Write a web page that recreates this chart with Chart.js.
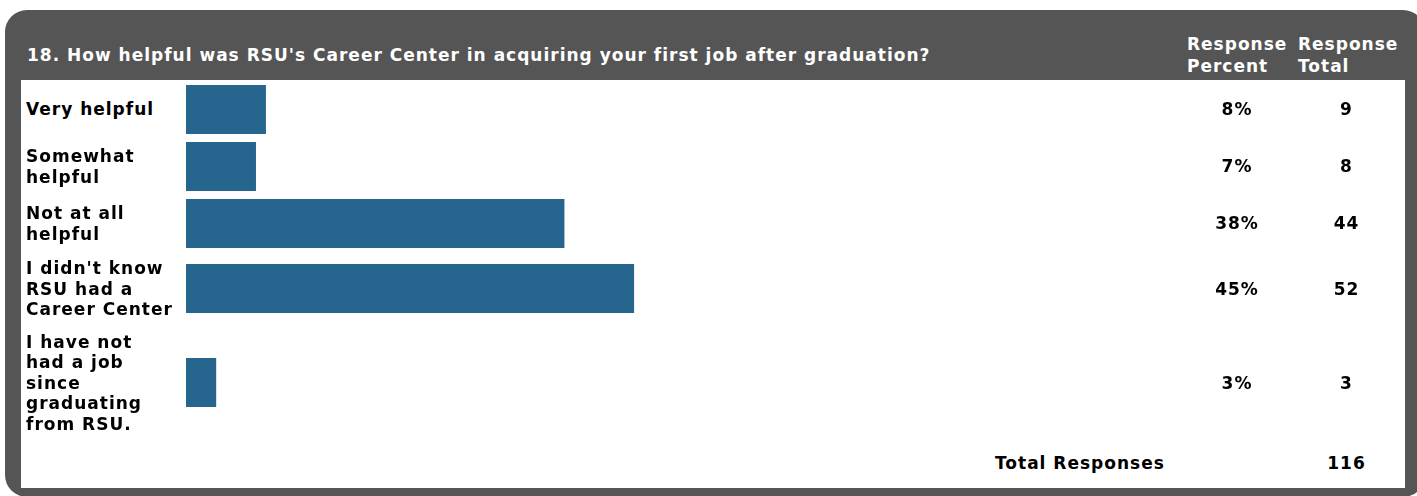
<!DOCTYPE html>
<html>
<head>
<meta charset="utf-8">
<script src="https://cdn.jsdelivr.net/npm/chart.js@4.4.1/dist/chart.umd.min.js"></script>
<style>
  html, body { margin: 0; padding: 0; background: #fff; }
  body { width: 1417px; height: 496px; overflow: hidden; position: relative;
         font-family: 'DejaVu Sans', Verdana, sans-serif; font-weight: bold; font-size: 17px; letter-spacing: 1px; }
  .box { position: absolute; left: 5px; top: 10px; width: 1420px; height: 487px;
         background: #555555; border-radius: 22px; }
  .title { position: absolute; left: 27px; top: 44px; color: #fff; line-height: 22px; white-space: nowrap; }
  .head { position: absolute; top: 33px; color: #fff; line-height: 22px; }
  .panel { position: absolute; left: 21px; top: 80px; width: 1384px; height: 408px; background: #fff; }
  table { border-collapse: collapse; position: absolute; left: 0; top: 1px; }
  td { padding: 4px 0; vertical-align: middle; color: #000; line-height: 20.5px; }
  td.lab { width: 160px; padding: 6px 0 6px 5px; white-space: nowrap; }
  td.bar { width: 995px; padding-right: 5px; }
  td.pct { width: 102px; text-align: center; }
  td.tot { width: 117px; text-align: center; }
  .total { position: absolute; top: 373px; left: 0; }
  .bar div { width: 995px; height: 49px; }
</style>
</head>
<body>
<div class="box"></div>
<div class="title">18. How helpful was RSU's Career Center in acquiring your first job after graduation?</div>
<div class="head" style="left:1187px">Response<br>Percent</div>
<div class="head" style="left:1298px">Response<br>Total</div>
<div class="panel">
  <table id="tbl"></table>
  <div class="total" style="left:974px; top:373px">Total Responses</div>
  <div class="total" style="left:1267px; width:117px; text-align:center; top:373px">116</div>
</div>
<script>
const answers = [
  ['Very helpful'],
  ['Somewhat', 'helpful'],
  ['Not at all', 'helpful'],
  ["I didn't know", 'RSU had a', 'Career Center'],
  ['I have not', 'had a job', 'since', 'graduating', 'from RSU.']
];
const percents = [8, 7, 38, 45, 3];
const totals = [9, 8, 44, 52, 3];
const barColor = '#25658e';

const tbl = document.getElementById('tbl');

answers.forEach((lines, i) => {
  const tr = document.createElement('tr');

  const lab = document.createElement('td');
  lab.className = 'lab';
  lab.innerHTML = lines.join('<br>');

  const barTd = document.createElement('td');
  barTd.className = 'bar';
  const wrap = document.createElement('div');
  const canvas = document.createElement('canvas');
  wrap.appendChild(canvas);
  barTd.appendChild(wrap);

  const pct = document.createElement('td');
  pct.className = 'pct';
  pct.textContent = percents[i] + '%';

  const tot = document.createElement('td');
  tot.className = 'tot';
  tot.textContent = totals[i];

  tr.appendChild(lab);
  tr.appendChild(barTd);
  tr.appendChild(pct);
  tr.appendChild(tot);
  tbl.appendChild(tr);

  new Chart(canvas, {
    type: 'bar',
    data: {
      labels: [lines.join(' ')],
      datasets: [{
        data: [percents[i]],
        backgroundColor: barColor,
        borderWidth: 0,
        barPercentage: 1,
        categoryPercentage: 1,
      }]
    },
    options: {
      indexAxis: 'y',
      responsive: true,
      maintainAspectRatio: false,
      animation: false,
      layout: { padding: 0 },
      plugins: { legend: { display: false }, tooltip: { enabled: false } },
      scales: {
        x: { display: false, min: 0, max: 100 },
        y: { display: false }
      }
    }
  });
});
</script>
</body>
</html>
